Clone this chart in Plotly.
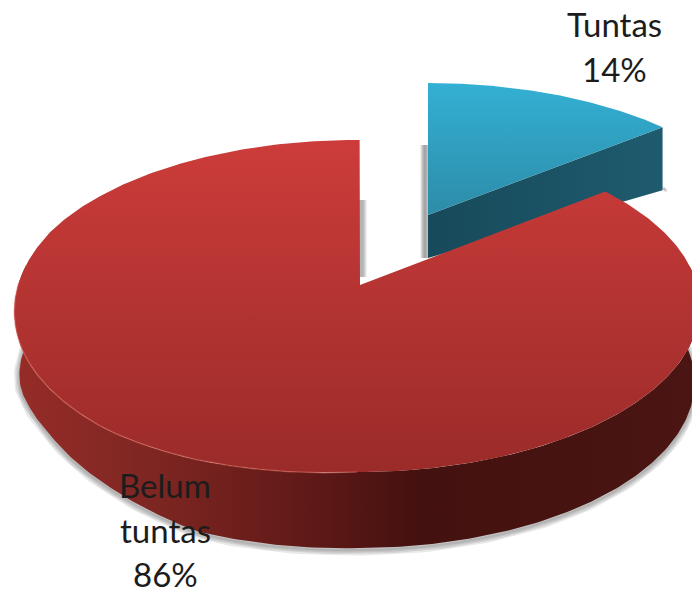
import textwrap
import numpy as np
import plotly.graph_objects as go

# ---- data ----
categories = ["Tuntas", "Belum tuntas"]
values = [14, 86]

# ---- styles / view ----
W, H = 692, 595
P = 0.1266                 # perspective foreshortening of the disc
RED = dict(ax=357, ay=285, rx=340, ry=163.4, depth=76)
BLUE = dict(ax=428, ay=215, rx=329, ry=148.7)
RED_TOP = [[0, "#cc3c3a"], [1, "#9a2b29"]]
RED_WALL = [[0, "#962c28"], [0.2, "#7e2622"], [0.4, "#651b19"], [0.6, "#43110f"], [1, "#4a1512"]]
BLUE_TOP = [[0, "#33b0d4"], [1, "#2d8ca8"]]
BLUE_WALL = [[0, "#174a5a"], [1, "#1e5b6e"]]
ROTATION = 0.5
GAP_EXTRA = 1.5
# lens distortion of the lower-left quadrant, by rim angle
BEND_A = [180, 205, 222, 240, 250, 275, 290]
BEND_TOP = [0, 7, 10, 9, 8, 3, 0]
BEND_A_LOW = [180, 205, 222, 240, 250, 260, 278]
BEND_LOW = [0, 3, -8, -17, -15, -8, -3]


def proj(g, deg, dy=0.0, sx=1.0):
    a = np.radians(np.asarray(deg, dtype=float))
    u, v = np.sin(a), np.cos(a)
    w = 1 + P * v
    return g["ax"] + sx * g["rx"] * u / w, g["ay"] - g["ry"] * v / w + dy


def red_top_rim(deg):
    x, y = proj(RED, deg)
    return x, y + np.interp(deg, BEND_A, BEND_TOP)


def red_low_rim(deg):
    x, y = proj(RED, deg, dy=RED["depth"], sx=0.985)
    return x, y + np.interp(deg, BEND_A_LOW, BEND_LOW)


def arc(a0, a1, n=240):
    return np.linspace(a0, a1, n)


blue_sweep = values[0] / sum(values) * 360

traces = []


def poly(x, y, scale, orient, start, stop):
    traces.append(go.Scatter(
        x=list(x), y=list(y), mode="lines", line=dict(width=0), fill="toself",
        fillgradient=dict(type=orient, colorscale=scale, start=start, stop=stop),
        hoverinfo="skip", showlegend=False))


def soft(x, y, widths=(11, 8, 5, 2), alpha=0.10):
    for wd in widths:
        traces.append(go.Scatter(
            x=list(x), y=list(y), mode="lines",
            line=dict(width=wd, color=f"rgba(40,40,40,{alpha})"),
            hoverinfo="skip", showlegend=False))


# blue slice
bx, by = proj(BLUE, arc(0, blue_sweep))
soft([BLUE["ax"] - 3, BLUE["ax"] - 3], [by[0] + 62, BLUE["ay"] + 43], widths=(9, 6, 3), alpha=0.16)
soft([bx[-1] + 1, bx[-1] + 3], [by[-1] + 63, by[-1] + 61], widths=(6, 3), alpha=0.15)
wx = [BLUE["ax"], bx[-1], bx[-1], BLUE["ax"]]
wy = [BLUE["ay"], by[-1], by[-1] + 63, BLUE["ay"] + 43]
poly(wx, wy, BLUE_WALL, "horizontal", BLUE["ax"], bx[-1])
poly(np.r_[BLUE["ax"], bx], np.r_[BLUE["ay"], by], BLUE_TOP, "vertical", by.min(), BLUE["ay"])

# shadow on the red slice's cut face, inside the gap
sx0, sy0 = proj(RED, ROTATION + 360)
soft([sx0 + 2, sx0 + 2], [200, RED["ay"] - 8], widths=(10, 7, 4), alpha=0.13)

# red slice
a_wall = arc(83, 278)
tx, ty = red_top_rim(a_wall)
lx, ly = red_low_rim(a_wall)
soft(lx, ly + 2)
poly(np.r_[tx, lx[::-1]], np.r_[ty, ly[::-1]], RED_WALL, "horizontal", 15, W)
rx_, ry_ = red_top_rim(arc(blue_sweep + GAP_EXTRA, 360 + ROTATION, 400))
poly(np.r_[RED["ax"] + 3, rx_], np.r_[RED["ay"], ry_], RED_TOP, "vertical", ry_.min(), ry_.max())
hx, hy = red_top_rim(arc(180, 272))
traces.append(go.Scatter(x=list(hx), y=list(hy), mode="lines",
                         line=dict(width=1.5, color="rgba(225,110,100,0.45)"),
                         hoverinfo="skip", showlegend=False))

fig = go.Figure(traces)

# labels
anchors = [(614, [24, 69]), (165, [485, 530, 574])]
for cat, val, (lx0, ys) in zip(categories, values, anchors):
    lines = textwrap.wrap(cat, 7) + [f"{val}%"]
    for line, yy in zip(lines, ys):
        fig.add_annotation(x=lx0, y=yy, text=line, showarrow=False,
                           font=dict(family="Lato, sans-serif", size=33, color="#1c1c1c"))

fig.update_layout(
    width=W, height=H, margin=dict(l=0, r=0, t=0, b=0),
    paper_bgcolor="white", plot_bgcolor="white", showlegend=False,
    xaxis=dict(range=[0, W], visible=False, fixedrange=True),
    yaxis=dict(range=[H, 0], visible=False, fixedrange=True),
)
fig.write_html("out.html", post_script="document.body.style.margin='0';", config={"displayModeBar": False})
